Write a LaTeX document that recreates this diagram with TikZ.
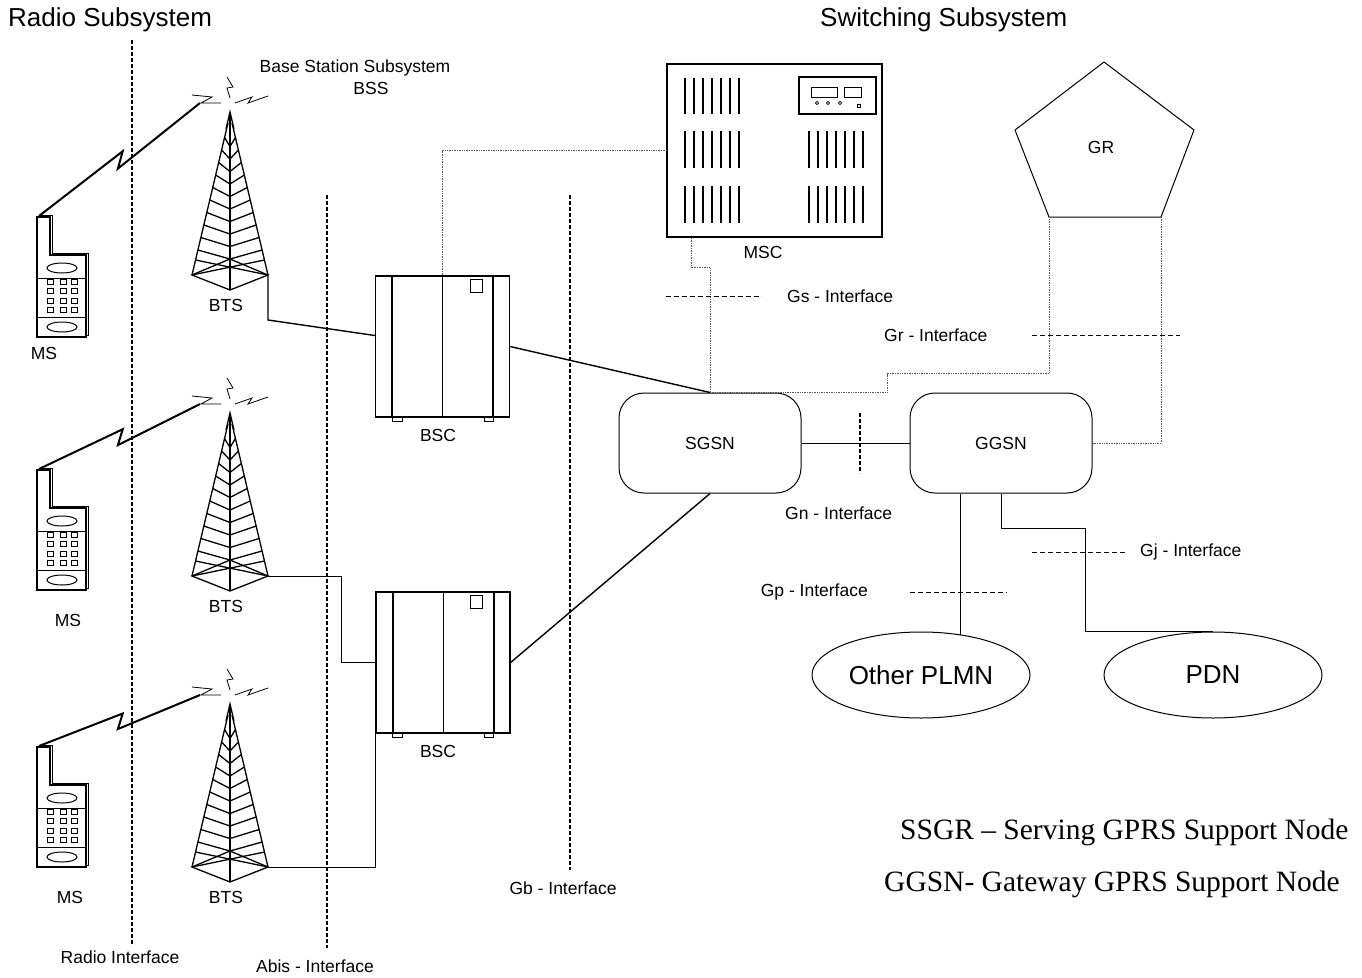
\documentclass[tikz,border=0pt]{standalone}
\usepackage{fontspec}
\setmainfont{Liberation Sans}
\newfontfamily\legendfont{Liberation Serif}
\usetikzlibrary{shapes.geometric, positioning, calc}

\tikzset{
  ifline/.style={dash pattern=on 4pt off 2pt, line width=1.4pt},
  ifmark/.style={dash pattern=on 5pt off 3pt, line width=1pt},
  link/.style={line width=1.4pt},
  thinlink/.style={line width=0.9pt},
  dotlink/.style={line width=0.9pt, black!65, dash pattern=on 1pt off 0.7pt},
  bolt/.style={line width=2pt, line join=miter},
  lbl/.style={font=\fontsize{17.5}{20}\selectfont, inner sep=0pt},
  title/.style={font=\fontsize{26}{30}\selectfont, inner sep=0pt},
  bigtext/.style={font=\fontsize{26}{30}\selectfont, inner sep=0pt},
  legend/.style={font=\legendfont\fontsize{29.5}{34}\selectfont, inner sep=0pt, anchor=west},
  gsn/.style={draw, rounded corners=25pt, minimum width=182, minimum height=100, line width=1pt, lbl},
  net/.style={draw, ellipse, minimum width=218, minimum height=86, line width=1pt, bigtext},
  % mobile station
  phone/.pic={
    \draw[line width=1pt, fill=white, shift={(2,-1.5)}] (0,0) -- (13,0) -- (13,38) -- (49,38) -- (49,120) -- (0,120) -- cycle;
    \draw[line width=1.4pt, fill=white] (0,0) -- (13,0) -- (13,38) -- (49,38) -- (49,120) -- (0,120) -- cycle;
    \draw[line width=1pt] (0,61) -- (49,61) (0,100) -- (49,100);
    \draw[line width=1pt] (25,51) ellipse [x radius=15, y radius=5];
    \draw[line width=1pt] (25,110) ellipse [x radius=15, y radius=5];
    \foreach \cx in {13,26,37}
      \foreach \cy in {65,74,84,93}
        \draw[line width=1pt] (\cx-3,\cy-2.2) rectangle (\cx+3,\cy+2.2);
    \coordinate (-ant) at (2,-1);
  },
  % base transceiver station
  tower/.pic={
    \begin{scope}[line width=1.3pt]
      \draw (-2,20) -- (-38,172);
      \draw (2,20) -- (38,172);
      \draw (0,10) -- (0,187);
      \draw (-4,26) -- (0,9) -- (4,26);
      \foreach \k in {1,...,10} {
        \pgfmathsetmacro\ys{22+\k*12.5}
        \pgfmathsetmacro\xs{2+36*(\ys-20)/152}
        \draw (-\xs,\ys) -- (0,\ys+9) -- (\xs,\ys);
      }
      \draw (-38,172) -- (0,187) -- (38,172) -- (0,156) -- cycle;
      \draw (-38,172) -- (34.5,157) (38,172) -- (-34.5,157);
    \end{scope}
    \draw[line width=0.8pt] (-38,-8) -- (-18,-6) -- (-29,0) -- (-9,0);
    \draw[line width=0.8pt] (-3,-26) -- (3,-16) -- (-3,-15) -- (0,-5);
    \draw[line width=0.8pt] (5,0) -- (22,-6) -- (18,0) -- (38,-7);
    \coordinate (-wave) at (-30,0);
    \coordinate (-foot) at (38,172);
  },
  % base station controller
  bsc/.pic={
    \node[draw, line width=1.2pt, minimum width=134, minimum height=141, inner sep=0pt] (-box) at (0,0) {};
    \draw[line width=2pt] (-50.5,-70.5) -- (-50.5,70.5) (50.5,-70.5) -- (50.5,70.5);
    \draw[line width=0.8pt] (0,-70.5) -- (0,70.5);
    \draw[line width=0.9pt] (27.5,-67.5) rectangle (39.5,-54.5);
    \draw[line width=0.9pt] (-50.5,70.5) rectangle (-40.5,74.5) (41.5,70.5) rectangle (50.5,74.5);
  },
  % mobile switching centre
  msc/.pic={
    \node[draw, line width=1.6pt, minimum width=215, minimum height=173, inner sep=0pt] (-box) at (0,0) {};
    \foreach \sx in {-89.5,-80.5,...,-35.5}
      \foreach \ya/\yb in {-72.5/-36.5, -19.5/17.5, 35.5/72.5}
        \draw[line width=1.5pt] (\sx,\ya) -- (\sx,\yb);
    \foreach \sx in {34.5,43.5,...,88.5}
      \foreach \ya/\yb in {-19.5/17.5, 35.5/72.5}
        \draw[line width=1.5pt] (\sx,\ya) -- (\sx,\yb);
    \draw[line width=1.3pt] (24.5,-73.5) rectangle (101.5,-36.5);
    \draw[line width=1pt] (36.5,-63.5) rectangle (62.5,-53.5);
    \draw[line width=1pt] (69.5,-63.5) rectangle (86.5,-53.5);
    \foreach \cx in {42.5,53.5,65.5}
      \draw[line width=0.8pt] (\cx,-47.5) circle [radius=1.6];
    \draw[line width=0.9pt] (83,-46) rectangle (86,-43);
  }
}

\begin{document}
\begin{tikzpicture}[x=1pt, y=-1pt]
    \useasboundingbox (0,0) rectangle (1362,977);

    % Titles
    \node[title, anchor=west] (radiosub) at (8,20) {Radio Subsystem};
    \node[title, anchor=west] (switchsub) at (820,20) {Switching Subsystem};
    \node[lbl] (bss) at (355,68) {Base Station Subsystem};
    \node[lbl] (bssabbr) at (371,88) {BSS};

    % Interface borders
    \draw[ifline] (132,40) -- (132,945);
    \draw[ifline] (327,195) -- (327,948);
    \draw[ifline] (570,195) -- (570,870);
    \node[lbl] (radioif) at (120,957) {Radio Interface};
    \node[lbl] (abisif) at (315,966) {Abis - Interface};
    \node[lbl] (gbif) at (563,888) {Gb - Interface};

    % Mobile stations and towers
    \foreach \i/\py/\ty/\mx/\my in {1/217/103/44/353, 2/470/404/68/620, 3/747/695/70/897} {
        \pic (ms\i) at (37,\py) {phone};
        \pic (bts\i) at (230,\ty) {tower};
        \node[lbl] (mslbl\i) at (\mx,\my) {MS};
        \node[lbl] (btslbl\i) at (226,\ty+202) {BTS};
    }
    \foreach \i in {1,2,3}
        \draw[bolt] (ms\i-ant) -- ($(ms\i-ant)!0.52!(bts\i-wave)+(0,-6)$) -- ($(ms\i-ant)!0.49!(bts\i-wave)+(0,8)$) -- (bts\i-wave);

    % Controllers
    \pic (bsc1) at (442.5,346.5) {bsc};
    \pic (bsc2) at (443,662.5) {bsc};
    \node[lbl] (bsclbl1) at (438,435) {BSC};
    \node[lbl] (bsclbl2) at (438,751) {BSC};

    % Core network
    \pic (msc) at (774.5,150.5) {msc};
    \node[lbl] (msclbl) at (763,252) {MSC};
    \node[gsn] (sgsn) at (710,443) {SGSN};
    \node[gsn] (ggsn) at (1001,443) {GGSN};
    \node[net] (plmn) at (921,675) {Other PLMN};
    \node[net] (pdn) at (1213,675) {PDN};

    \coordinate (gr-t) at (1104,62);
    \coordinate (gr-l) at (1015,130);
    \coordinate (gr-r) at (1194,130);
    \coordinate (gr-bl) at (1049,217);
    \coordinate (gr-br) at (1161,217);
    \draw[line width=1pt] (gr-t) -- (gr-r) -- (gr-br) -- (gr-bl) -- (gr-l) -- cycle;
    \node[lbl] (gr) at (1101,147) {GR};

    % Connections
    \draw[link] (bts1-foot) -- ++(0,45) -- ([yshift=11pt]bsc1-box.west);
    \draw[thinlink] (bts2-foot) -- ++(73,0) |- (bsc2-box.west);
    \draw[thinlink] (bts3-foot) -| (bsc2-box.south west);
    \draw[link] (bsc1-box.east) -- (sgsn.north);
    \draw[link] (bsc2-box.east) -- (sgsn.south);
    \draw[dotlink] (bsc1-box.north) |- (msc-box.west);
    \draw[dotlink] ([xshift=25pt]msc-box.south west) -- ++(0,30) -| (sgsn.north);
    \draw[dotlink] (sgsn.north) -- ++(177,0) -- ++(0,-19) -| (gr-bl);
    \draw[dotlink] (gr-br) |- (ggsn.east);
    \draw[thinlink] (sgsn) -- (ggsn);
    \draw[thinlink] ([xshift=-41pt]ggsn.south) -- ([xshift=-41pt]ggsn.south |- plmn.45);
    \draw[thinlink] (ggsn.south) -- ++(0,35) -| ([xshift=-128pt]pdn.north) -- (pdn.north);

    % Interface marks
    \draw[ifmark] (666,296) -- (762,296);
    \node[lbl, anchor=west] (gsif) at (787,296) {Gs - Interface};
    \draw[ifmark] (1032,335) -- (1180,335);
    \node[lbl, anchor=west] (grif) at (884,335) {Gr - Interface};
    \draw[ifline] (860,413) -- (860,473);
    \node[lbl, anchor=west] (gnif) at (785,513) {Gn - Interface};
    \draw[ifmark] (910,592) -- (1007,592);
    \node[lbl, anchor=east] (gpif) at (868,592) {Gp - Interface};
    \draw[ifmark] (1032,552) -- (1127,552);
    \node[lbl, anchor=west] (gjif) at (1140,552) {Gj - Interface};

    % Legend
    \node[legend] (sgsnkey) at (900,832) {SSGR – Serving GPRS Support Node};
    \node[legend] (ggsnkey) at (884,884) {GGSN- Gateway GPRS Support Node};
\end{tikzpicture}
\end{document}
